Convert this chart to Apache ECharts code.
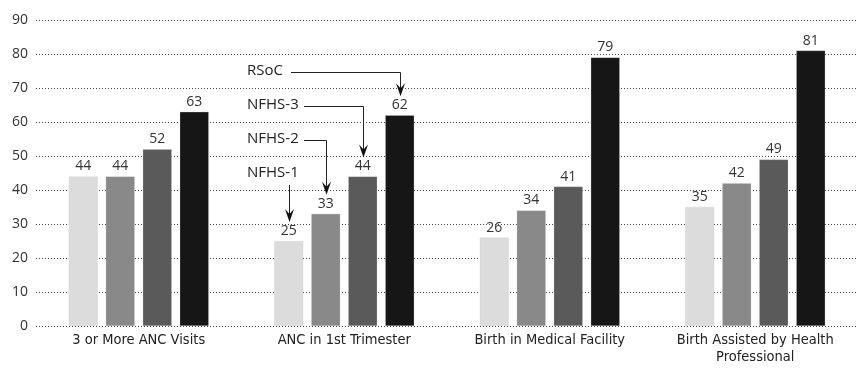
<!DOCTYPE html>
<html>
<head>
<meta charset="utf-8">
<script src="https://cdn.jsdelivr.net/npm/echarts@6/dist/echarts.min.js"></script>
<style>
  html, body { margin: 0; padding: 0; background: #fff; }
  #chart { width: 861px; height: 371px; }
</style>
</head>
<body>
<div id="chart"></div>
<script>
var categories = ['3 or More ANC Visits', 'ANC in 1st Trimester', 'Birth in Medical Facility', 'Birth Assisted by Health\nProfessional'];
var surveys = ['NFHS-1', 'NFHS-2', 'NFHS-3', 'RSoC'];
var nfhs1 = [44, 25, 26, 35];
var nfhs2 = [44, 33, 34, 42];
var nfhs3 = [52, 44, 41, 49];
var rsoc = [63, 62, 79, 81];
var barColors = ['#dcdcdc', '#898989', '#5a5a5a', '#161616'];
// where the callout text sits (value units), in survey order
var calloutLevels = [45, 55, 65, 75];

var BAR_W = 29, BAR_GAP = 8;
var mainFont = "'Open Sans', sans-serif";
var narrowFont = "'Liberation Sans Narrow', 'DejaVu Sans Condensed', sans-serif";

var dom = document.getElementById('chart');
var myChart = echarts.init(dom, null, { renderer: 'canvas' });

var values = [nfhs1, nfhs2, nfhs3, rsoc];

function makeSeries(i) {
  return {
    name: surveys[i],
    type: 'bar',
    data: values[i],
    barWidth: BAR_W,
    barGap: (BAR_GAP / BAR_W * 100).toFixed(1) + '%',
    animation: false,
    itemStyle: { color: barColors[i], borderColor: 'rgba(200,200,200,0.6)', borderWidth: 0.5 },
    label: {
      show: true,
      position: 'top',
      distance: 3,
      color: '#333',
      fontSize: 14,
      fontFamily: mainFont
    }
  };
}

var option = {
  animation: false,
  grid: { left: 36, right: 3, top: 20, bottom: 45, containLabel: false },
  xAxis: {
    type: 'category',
    data: categories,
    axisLine: { show: false },
    axisTick: { show: false },
    axisLabel: {
      color: '#222',
      fontSize: 14.5,
      fontFamily: narrowFont,
      margin: 6,
      lineHeight: 17
    }
  },
  yAxis: {
    type: 'value',
    min: 0,
    max: 90,
    interval: 10,
    axisLine: { show: false },
    axisTick: { show: false },
    axisLabel: { color: '#333', fontSize: 14, fontFamily: mainFont, margin: 8 },
    splitLine: { lineStyle: { color: '#444', type: [1, 2], width: 1 } }
  },
  series: [makeSeries(0), makeSeries(1), makeSeries(2), makeSeries(3)]
};

myChart.setOption(option);

// callouts pointing at the bars of the second category
function buildCallouts() {
  var cat = 1;
  var elements = [];
  var firstLeft = null;
  for (var i = 0; i < surveys.length; i++) {
    var off = (i - 1.5) * (BAR_W + BAR_GAP);
    var top = myChart.convertToPixel({ seriesIndex: i }, [cat, values[i][cat]]);
    var bx = Math.round(top[0] + off) + 0.5;
    if (firstLeft === null) firstLeft = bx - BAR_W / 2;
    var tipY = top[1] - 19;
    var textY = myChart.convertToPixel({ seriesIndex: 0 }, [cat, calloutLevels[i]])[1];
    var textX = firstLeft - 28;
    elements.push({
      type: 'text',
      style: { x: textX, y: textY, text: surveys[i], fill: '#222', font: '15px ' + mainFont, verticalAlign: 'middle' }
    });
    var pts;
    if (i === 0) {
      pts = [[bx, textY + 12], [bx, tipY - 6]];
    } else {
      var lineY = Math.round(textY + 1) + 0.5;
      var textW = i === 3 ? 44 : 57;
      pts = [[textX + textW, lineY], [bx, lineY], [bx, tipY - 6]];
    }
    elements.push({
      type: 'polyline',
      shape: { points: pts },
      style: { stroke: '#222', lineWidth: 1, fill: null }
    });
    elements.push({
      type: 'polygon',
      shape: { points: [[bx, tipY], [bx - 4.5, tipY - 13], [bx, tipY - 8], [bx + 4.5, tipY - 13]] },
      style: { fill: '#111' }
    });
  }
  myChart.setOption({ graphic: { elements: elements } });
}

buildCallouts();
window.addEventListener('resize', myChart.resize);
</script>
</body>
</html>
